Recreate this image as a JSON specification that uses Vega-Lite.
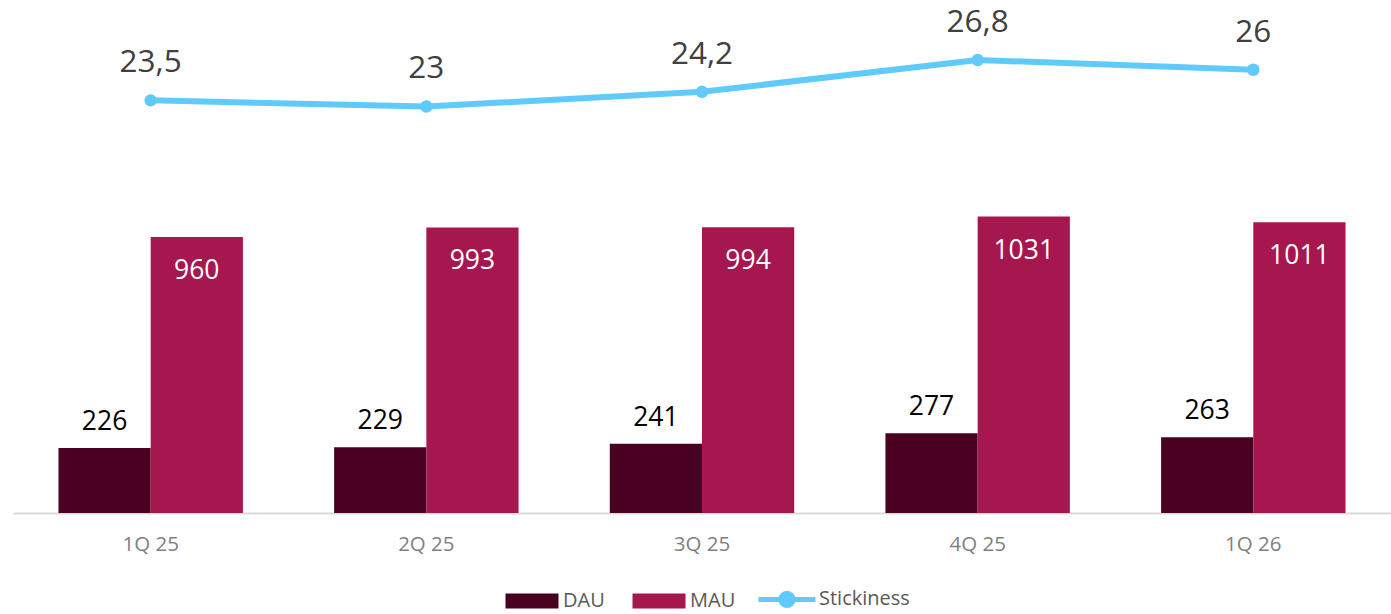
{
  "$schema": "https://vega.github.io/schema/vega-lite/v6.json",
  "width": 1378,
  "height": 513,
  "autosize": {"type": "none"},
  "padding": {"left": 13, "top": 0, "right": 0, "bottom": 101},
  "background": "#ffffff",
  "config": {
    "view": {"stroke": null},
    "font": "Open Sans",
    "locale": {"number": {"decimal": ",", "thousands": "", "grouping": [3], "currency": ["", ""]}}
  },
  "data": {
    "values": [
      {"q": "1Q 25", "series": "DAU", "value": 226},
      {"q": "1Q 25", "series": "MAU", "value": 960},
      {"q": "1Q 25", "series": "Stickiness", "value": 23.5},
      {"q": "2Q 25", "series": "DAU", "value": 229},
      {"q": "2Q 25", "series": "MAU", "value": 993},
      {"q": "2Q 25", "series": "Stickiness", "value": 23},
      {"q": "3Q 25", "series": "DAU", "value": 241},
      {"q": "3Q 25", "series": "MAU", "value": 994},
      {"q": "3Q 25", "series": "Stickiness", "value": 24.2},
      {"q": "4Q 25", "series": "DAU", "value": 277},
      {"q": "4Q 25", "series": "MAU", "value": 1031},
      {"q": "4Q 25", "series": "Stickiness", "value": 26.8},
      {"q": "1Q 26", "series": "DAU", "value": 263},
      {"q": "1Q 26", "series": "MAU", "value": 1011},
      {"q": "1Q 26", "series": "Stickiness", "value": 26}
    ]
  },
  "encoding": {
    "x": {
      "field": "q",
      "type": "nominal",
      "sort": null,
      "scale": {"domain": ["1Q 25", "2Q 25", "3Q 25", "4Q 25", "1Q 26"], "paddingInner": 0.331, "paddingOuter": 0.165},
      "axis": {
        "title": null,
        "labelAngle": 0,
        "ticks": false,
        "grid": false,
        "domainColor": "#d9d9d9",
        "domainWidth": 2,
        "labelFont": "Open Sans",
        "labelFontSize": 20.5,
        "labelColor": "#7f7f7f",
        "labelPadding": 21
      }
    }
  },
  "layer": [
    {
      "transform": [{"filter": "datum.series !== 'Stickiness'"}],
      "encoding": {
        "xOffset": {"field": "series", "type": "nominal", "scale": {"domain": ["DAU", "MAU"], "paddingInner": 0, "paddingOuter": 0}},
        "y": {"field": "value", "type": "quantitative", "scale": {"domain": [0, 1784], "nice": false, "zero": true}, "axis": null}
      },
      "layer": [
        {
          "mark": {"type": "bar"},
          "encoding": {
            "color": {
              "field": "series",
              "type": "nominal",
              "scale": {"domain": ["DAU", "MAU", "Stickiness"], "range": ["#4a0021", "#a6164f", "#60cbfb"]},
              "legend": {
                "title": null,
                "orient": "none",
                "direction": "horizontal",
                "legendX": 509,
                "legendY": 586,
                "padding": 0,
                "labelFont": "Open Sans",
                "labelFontSize": 20,
                "labelColor": "#595959",
                "labelOffset": 21,
                "columnPadding": 12,
                "symbolSize": 2809,
                "encode": {
                  "labels": {
                    "update": {
                      "dx": {"signal": "datum.value === 'Stickiness' ? 3 : 0"},
                      "dy": {"signal": "datum.value === 'Stickiness' ? 3 : 0"}
                    }
                  },
                  "symbols": {
                    "update": {
                      "shape": {"signal": "datum.value === 'Stickiness' ? 'M-1,0.113H1.15M0.305,0.113A0.23,0.23 0 1,1 -0.155,0.113A0.23,0.23 0 1,1 0.305,0.113Z' : datum.value === 'DAU' ? 'M-1,-0.283H1V0.283H-1ZM3.25,0L3.3,0' : 'M-1,-0.283H1V0.283H-1Z'"},
                      "fill": {"signal": "scale('color', datum.value)"},
                      "stroke": {"signal": "scale('color', datum.value)"},
                      "strokeWidth": {"signal": "datum.value === 'Stickiness' ? 5 : 0"},
                      "opacity": {"value": 1},
                      "fillOpacity": {"value": 1}
                    }
                  }
                }
              }
            }
          }
        },
        {
          "transform": [{"filter": "datum.series === 'DAU'"}],
          "mark": {"type": "text", "baseline": "alphabetic", "dy": -18, "fontSize": 26.5, "color": "#000000", "font": "Open Sans"},
          "encoding": {"text": {"field": "value", "type": "quantitative", "format": "d"}}
        },
        {
          "transform": [{"filter": "datum.series === 'MAU'"}],
          "mark": {"type": "text", "baseline": "alphabetic", "dy": 42, "fontSize": 26.5, "color": "#ffffff", "font": "Open Sans"},
          "encoding": {"text": {"field": "value", "type": "quantitative", "format": "d"}}
        }
      ]
    },
    {
      "transform": [{"filter": "datum.series === 'Stickiness'"}],
      "encoding": {
        "y": {"field": "value", "type": "quantitative", "scale": {"domain": [-10.21, 31.7], "nice": false, "zero": false}, "axis": null}
      },
      "layer": [
        {
          "mark": {"type": "line", "strokeWidth": 6},
          "encoding": {"color": {"field": "series", "type": "nominal"}}
        },
        {
          "mark": {"type": "circle", "size": 155, "opacity": 1, "color": "#60cbfb"},
          "encoding": {}
        },
        {
          "mark": {"type": "text", "baseline": "alphabetic", "dy": -28, "fontSize": 31.5, "color": "#404040", "font": "Open Sans"},
          "encoding": {"text": {"field": "value", "type": "quantitative", "format": "~g"}}
        }
      ]
    }
  ],
  "resolve": {"scale": {"y": "independent"}}
}
